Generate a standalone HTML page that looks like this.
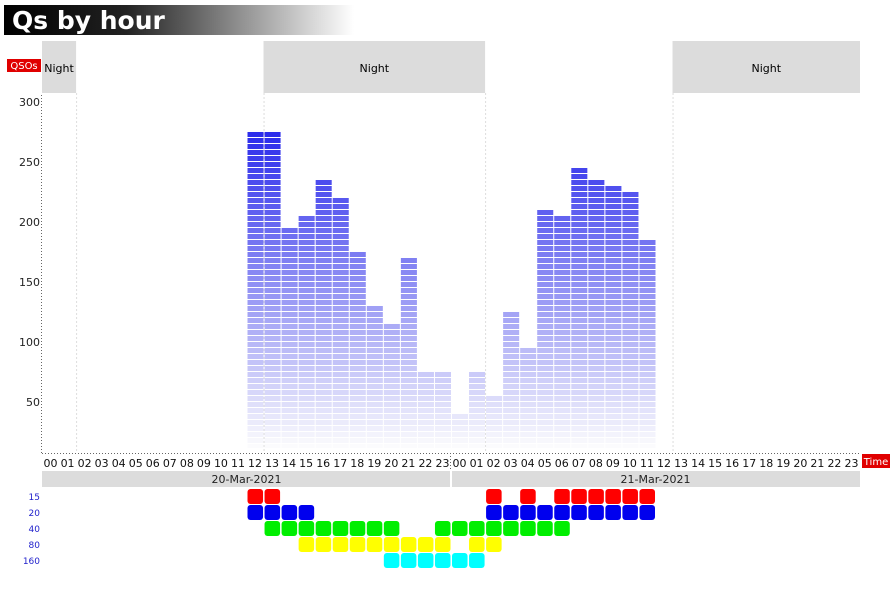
<!DOCTYPE html>
<html><head><meta charset="utf-8"><style>
body{margin:0;background:#fff;width:893px;height:594px;overflow:hidden;font-family:"DejaVu Sans","Liberation Sans",sans-serif}
</style></head><body>
<svg id="c" width="893" height="594" xmlns="http://www.w3.org/2000/svg">
<defs><linearGradient id="tg" x1="0" x2="1"><stop offset="0" stop-color="#000"/><stop offset="0.35" stop-color="#222"/><stop offset="1" stop-color="#fff"/></linearGradient></defs>
<rect x="4" y="5" width="350" height="30" fill="url(#tg)"/>
<text x="12" y="29" font-size="25" font-weight="bold" fill="#fff" font-family="DejaVu Sans, sans-serif">Qs by hour</text>
<g id="g"></g>
</svg>
<script>
const hours=["00","01","02","03","04","05","06","07","08","09","10","11","12","13","14","15","16","17","18","19","20","21","22","23"];
const dates=["20-Mar-2021","21-Mar-2021"];
const qsos=[0,0,0,0,0,0,0,0,0,0,0,0,275,275,195,205,235,220,175,130,115,170,75,75,
            40,75,55,125,95,210,205,245,235,230,225,185,0,0,0,0,0,0,0,0,0,0,0,0];
const yTicks=[50,100,150,200,250,300];
const nights=[[0,2],[13,26],[37,48]];
const bandNames=["15","20","40","80","160"];
const bandColors=["#ff0000","#0000ee","#00ee00","#ffff00","#00ffff"];
const bandHours=[[12,13,26,28,30,31,32,33,34,35],[12,13,14,15,26,27,28,29,30,31,32,33,34,35],
 [13,14,15,16,17,18,19,20,23,24,25,26,27,28,29,30],[15,16,17,18,19,20,21,22,23,25,26],[20,21,22,23,24,25]];
const NS="http://www.w3.org/2000/svg",g=document.getElementById('g');
const X0=42,X1=860,SW=(X1-X0)/48,base=462,K=1.2,AX=453;
const x=i=>X0+i*SW, y=v=>base-v*K;
function el(t,a,p){const e=document.createElementNS(NS,t);for(const k in a)e.setAttribute(k,a[k]);(p||g).appendChild(e);return e;}
// nights
nights.forEach((n,i)=>{
 const r=el('rect',{x:x(n[0]),y:41,width:x(n[1])-x(n[0]),height:52,fill:'#dcdcdc'});
 
 
 const t=el('text',{x:(x(n[0])+x(n[1]))/2,y:72,'font-size':11,'text-anchor':'middle',fill:'#000'});t.textContent='Night';
 
 
 [n[0],n[1]].forEach(h=>{if(h>0&&h<48){const l=el('line',{x1:x(h)+.5,x2:x(h)+.5,y1:93,y2:AX,stroke:'#ddd','stroke-dasharray':'2,2'});
 
 }});
});
// bars
qsos.forEach((v,i)=>{
 if(!v)return;
 const bg=el('g',{});
 
 
 const top=y(v);
 for(let yy=top;yy<448;yy+=6){
  const f=Math.min(1,Math.max(0,(yy-125)/325));
  const c='rgb('+Math.round(40+215*f)+','+Math.round(40+215*f)+','+Math.round(235+18*f)+')';
  el('rect',{x:x(i)+1,y:yy,width:SW-1,height:Math.min(5,448-yy),fill:c},bg);
 }
});
// axes
let a=el('line',{x1:X0-.5,x2:X0-.5,y1:95,y2:AX,stroke:'#666','stroke-dasharray':'1,2'});

a=el('line',{x1:X0,x2:X1,y1:AX+.5,y2:AX+.5,stroke:'#666','stroke-dasharray':'1,2'});

a=el('line',{x1:x(24)-.5,x2:x(24)-.5,y1:AX,y2:471,stroke:'#666','stroke-dasharray':'1,2'});

yTicks.forEach(v=>{const t=el('text',{x:40,y:y(v)+4,'font-size':11,'text-anchor':'end',fill:'#222'});t.textContent=v;
 
 });
for(let i=0;i<48;i++){const t=el('text',{x:x(i)+SW/2,y:467,'font-size':11,'text-anchor':'middle',fill:'#111'});t.textContent=hours[i%24];
 
 }
dates.forEach((d,i)=>{
 const r=el('rect',{x:x(i*24)+(i?1:0),y:471,width:x(24)-x(0)-(i?1:1),height:16,fill:'#dcdcdc'});
 
 
 const t=el('text',{x:x(i*24+12),y:483,'font-size':11,'text-anchor':'middle',fill:'#222'});t.textContent=d;
 
 
});
// axis labels
let r=el('rect',{x:7,y:59,width:34,height:13,fill:'#e00000'});
let t=el('text',{x:24,y:69,'font-size':10,'text-anchor':'middle',fill:'#fff'});t.textContent='QSOs';
r=el('rect',{x:862,y:454,width:28,height:14,fill:'#e00000'});
t=el('text',{x:876,y:465,'font-size':10,'text-anchor':'middle',fill:'#fff'});t.textContent='Time';
// bands
bandNames.forEach((b,j)=>{
 const yy=489+j*16;
 const l=el('text',{x:40,y:yy+11,'font-size':9,'text-anchor':'end',fill:'#2222cc'});l.textContent=b;
 
 
 bandHours[j].forEach(h=>{const s=el('rect',{x:x(h)+1,y:yy,width:SW-1.5,height:15,rx:3,fill:bandColors[j]});
  
  });
});
</script>
</body></html>
